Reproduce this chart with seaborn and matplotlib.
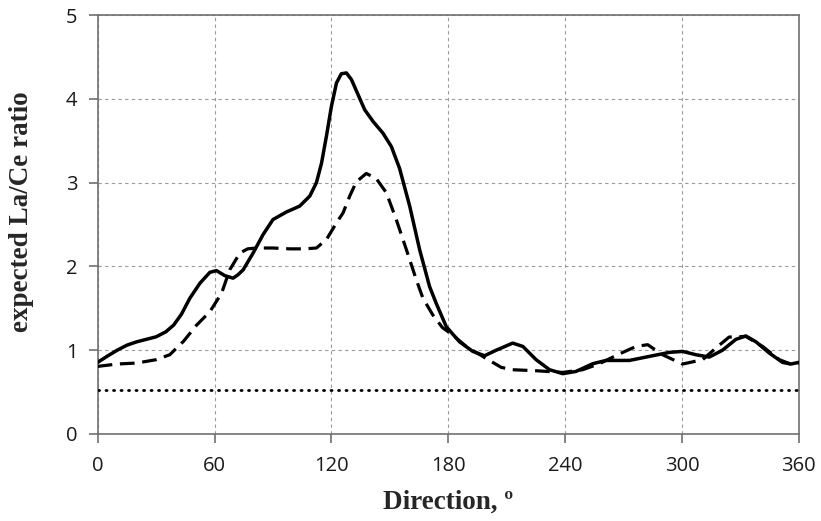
import matplotlib
matplotlib.use("Agg")
import matplotlib.pyplot as plt
import seaborn as sns
import pandas as pd

# Solid series
solid_dir = [0, 5, 10, 15, 20, 25, 30, 35, 39, 43, 47.3, 52.5, 57.6, 61, 65.3, 69.5, 72, 74.7, 79.8, 84.9,
             90, 96.9, 103.7, 108.9, 112.3, 114.9, 117.4, 120, 122.6, 125.1, 127.7, 130.3, 133.7, 137.1,
             141.4, 146.5, 150.8, 155, 160.2, 165.3, 170.4, 173.8, 179, 185.8, 192.6, 198.6, 204.6, 213.1,
             218.3, 225.1, 232, 238.8, 245.6, 254.2, 261, 273, 283.2, 293.5, 300.3, 307.2, 314, 320.8,
             327.7, 332.8, 338, 344.8, 351.6, 355.9, 360]
solid_val = [0.855, 0.93, 1.0, 1.06, 1.1, 1.13, 1.16, 1.22, 1.30, 1.43, 1.62, 1.80, 1.93, 1.95, 1.89, 1.86,
             1.90, 1.96, 2.16, 2.38, 2.56, 2.65, 2.72, 2.84, 3.0, 3.23, 3.55, 3.91, 4.19, 4.30, 4.31, 4.23,
             4.05, 3.87, 3.73, 3.59, 3.43, 3.17, 2.72, 2.2, 1.76, 1.56, 1.28, 1.10, 0.986, 0.934, 1.0, 1.085,
             1.045, 0.887, 0.767, 0.72, 0.747, 0.839, 0.878, 0.878, 0.926, 0.974, 0.986, 0.946, 0.918, 1.0,
             1.13, 1.17, 1.10, 0.967, 0.855, 0.835, 0.855]

# Dashed series
dash_dir = [0, 10, 20, 30, 37, 44, 50.8, 57.6, 63.6, 67.8, 73, 77, 81.5, 90, 98.6, 106, 112.3, 117.4, 122.6,
            126, 129.4, 132.8, 137.9, 143, 148.2, 153.3, 158.5, 163.6, 167, 172.1, 177, 182.4, 189.2, 197.7,
            207.2, 213.1, 225.1, 238.8, 249, 257.6, 267.8, 276.4, 282.4, 290, 300.3, 310.6, 317.4, 324.2,
            332.8, 341.4, 350, 356.7, 360]
dash_val = [0.807, 0.835, 0.847, 0.887, 0.946, 1.105, 1.30, 1.46, 1.68, 1.96, 2.16, 2.21, 2.22, 2.22, 2.21,
            2.21, 2.22, 2.32, 2.52, 2.64, 2.84, 3.01, 3.11, 3.05, 2.88, 2.56, 2.20, 1.84, 1.62, 1.42, 1.27,
            1.18, 1.045, 0.926, 0.795, 0.767, 0.755, 0.735, 0.767, 0.839, 0.955, 1.045, 1.066, 0.946, 0.835,
            0.887, 1.026, 1.157, 1.165, 1.045, 0.887, 0.827, 0.847]

# Dotted reference level
dot_dir = [0, 360]
dot_val = [0.52, 0.52]

x_ticks = [0, 60, 120, 180, 240, 300, 360]
y_ticks = [0, 1, 2, 3, 4, 5]

sns.set_style("white")
plt.rcParams['font.family'] = ['Open Sans', 'DejaVu Sans']

fig = plt.figure(figsize=(8.21, 5.21), dpi=100)
ax = fig.add_axes([0.119, 0.167, 0.854, 0.804])

df_s = pd.DataFrame({"dir": solid_dir, "val": solid_val})
df_d = pd.DataFrame({"dir": dash_dir, "val": dash_val})
df_o = pd.DataFrame({"dir": dot_dir, "val": dot_val})

sns.lineplot(data=df_s, x="dir", y="val", ax=ax, color="black", lw=2.5, sort=False, zorder=4)
ax.lines[-1].set_solid_joinstyle("round")
ax.lines[-1].set_solid_capstyle("round")
sns.lineplot(data=df_d, x="dir", y="val", ax=ax, color="black", lw=2.3, sort=False, zorder=3)
ax.lines[-1].set_dashes([4.6, 2.4])
ax.lines[-1].set_dash_joinstyle("round")
sns.lineplot(data=df_o, x="dir", y="val", ax=ax, color="black", lw=2.0, sort=False, zorder=3)
ax.lines[-1].set_linestyle((0, (0.4, 2.3)))
ax.lines[-1].set_dash_capstyle("round")

ax.set_xlim(0, 360)
ax.set_ylim(0, 5)
ax.set_xticks(x_ticks)
ax.set_yticks(y_ticks)
ax.grid(True, color="#9a9a9a", linestyle=(0, (3, 3)), linewidth=0.8)
for s in ax.spines.values():
    s.set_color("#707070")
    s.set_linewidth(1.2)
ax.tick_params(axis="both", which="both", direction="out", length=6.5, width=1.2, color="#707070",
               labelsize=14.5, labelcolor="#1a1a1a", left=True, bottom=True)
ax.tick_params(axis="x", pad=9)
ax.tick_params(axis="y", pad=8)

ax.set_xlabel("Direction, º", fontfamily="Liberation Serif", fontweight="bold", fontsize=19.5)
ax.set_ylabel("expected La/Ce ratio", fontfamily="Liberation Serif", fontweight="bold", fontsize=19.5)
ax.xaxis.set_label_coords(0.5, -0.133)
ax.yaxis.set_label_coords(-0.091, 0.531)

fig.savefig("out.png", dpi=100)
